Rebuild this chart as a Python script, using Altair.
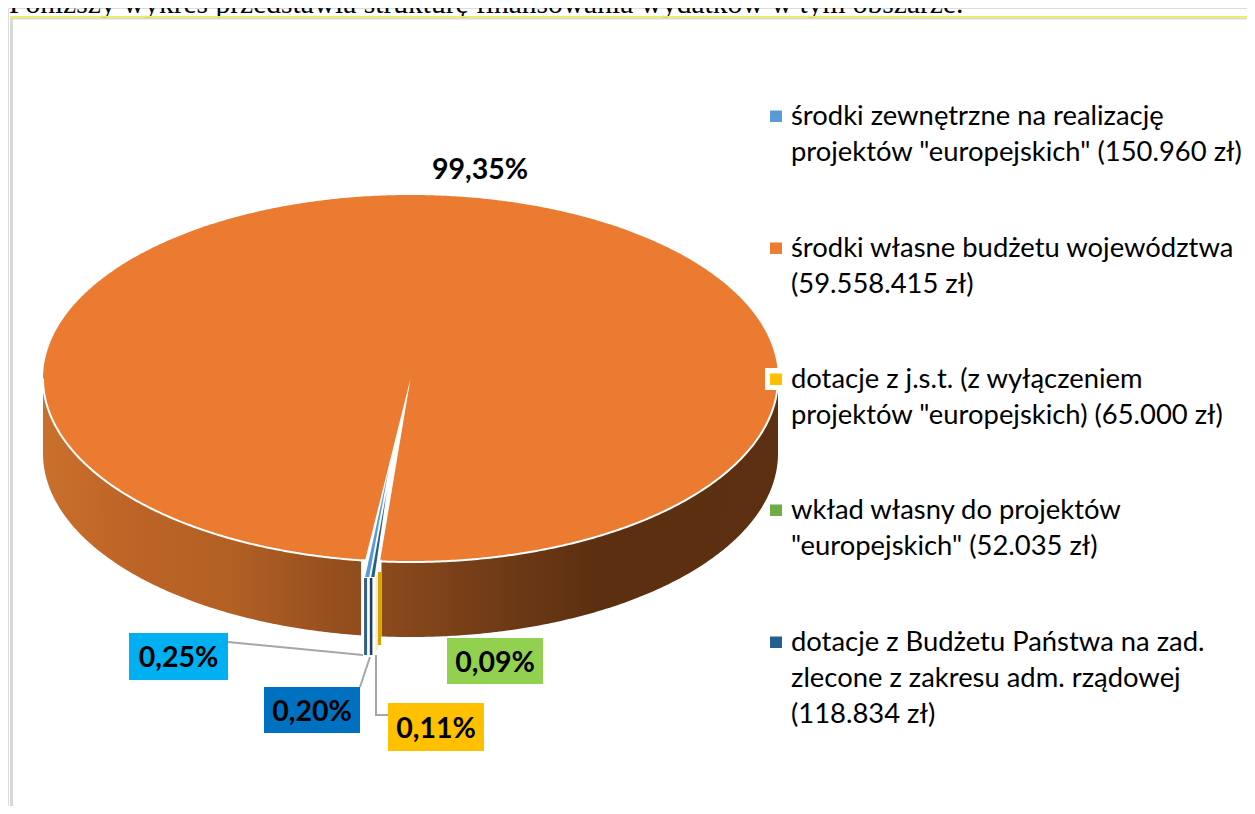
import numpy as np
import pandas as pd
import altair as alt

# ---- chart values ----
slice_names = ["blue", "orange", "yellow", "green", "navy"]
slice_shares = [0.25, 99.35, 0.11, 0.09, 0.20]
slice_labels = ["0,25%", "99,35%", "0,11%", "0,09%", "0,20%"]
legend_colors = ["#5b9bd5", "#ed7d31", "#ffc000", "#70ad47", "#255e91"]
legend_lines = [
    ["środki zewnętrzne na realizację", 'projektów "europejskich" (150.960 zł)'],
    ["środki własne budżetu województwa", "(59.558.415 zł)"],
    ["dotacje z j.s.t. (z wyłączeniem", 'projektów "europejskich) (65.000 zł)'],
    ["wkład własny do projektów", '"europejskich" (52.035 zł)'],
    ["dotacje z Budżetu Państwa na zad.", "zlecone z zakresu adm. rządowej", "(118.834 zł)"],
]
heading = "Poniższy wykres przedstawia strukturę finansowania wydatków w tym obszarze."

# ---- layout ----
W, H = 1255, 814
M = 8
CX, CY, RX, RY, DEPTH = 410.5, 378.5, 367.5, 183.5, 75
START_DEG = 187.1   # where the big slice starts (clockwise from 12 o'clock)
HEAD_SHIFT = 8      # the page margin hides the top strip, so heading and rule sit just below it

xs = alt.Scale(domain=[M, W - M], range=[0, W - 2 * M], nice=False, zero=False)
ys = alt.Scale(domain=[M, H - M], range=[0, H - 2 * M], nice=False, zero=False)


def X(f="x"):
    return alt.X(f"{f}:Q", scale=xs, axis=None)


def Y(f="y"):
    return alt.Y(f"{f}:Q", scale=ys, axis=None)


def edge(t_deg):
    t = np.radians(t_deg)
    return CX + RX * np.sin(t), CY - RY * np.cos(t)


# slice boundaries on the front edge: blue, navy, green, yellow run anticlockwise from the big slice
deg = [s * 3.6 for s in slice_shares]
t_blue_l = START_DEG
t_blue_r = t_blue_l - deg[0]
t_navy_r = t_blue_r - deg[4]
t_green_r = t_navy_r - deg[3]
t_yellow_r = t_green_r - deg[2]

u = np.cos(np.linspace(np.pi, 0, 361))
front = CY + RY * np.sqrt(1 - u**2)
back = CY - RY * np.sqrt(1 - u**2)
ex = CX + RX * u

side_df = pd.DataFrame({"x": ex, "y": front, "y2": front + DEPTH})
top_df = pd.DataFrame({"x": ex, "y": back, "y2": front})
rim_df = pd.DataFrame({"x": ex, "y": front})

side = alt.Chart(side_df).mark_area(
    color=alt.Gradient(
        gradient="linear", x1=0, x2=1, y1=0, y2=0,
        stops=[
            alt.GradientStop(offset=0.0, color="#c9702c"),
            alt.GradientStop(offset=0.118, color="#bd6427"),
            alt.GradientStop(offset=0.254, color="#b36024"),
            alt.GradientStop(offset=0.39, color="#97501e"),
            alt.GradientStop(offset=0.486, color="#87481b"),
            alt.GradientStop(offset=0.63, color="#6e3a16"),
            alt.GradientStop(offset=0.757, color="#5c2f11"),
            alt.GradientStop(offset=1.0, color="#5e3012"),
        ],
    )
).encode(x=X(), y=Y(), y2=alt.Y2("y2:Q"))

top = alt.Chart(top_df).mark_area(color="#ea7b31").encode(x=X(), y=Y(), y2=alt.Y2("y2:Q"))
rim = alt.Chart(rim_df).mark_line(color="#ffffff", strokeWidth=2).encode(x=X(), y=Y(), order="x:Q")

# gap in the top face left by the pulled-out slices
lx, ly = edge(t_blue_l)
rx_, ry_ = edge(t_yellow_r)
gap_df = pd.DataFrame({"y": [CY, ly], "x": [CX, lx], "x2": [CX, CX + (rx_ - CX) * (ly - CY) / (ry_ - CY)]})
gap = alt.Chart(gap_df).mark_area(orient="horizontal", color="#ffffff").encode(y=Y(), x=X(), x2=alt.X2("x2:Q"))

gapwall_df = pd.DataFrame({"x": [lx - 4], "x2": [rx_ + 1.5], "y": [ly - 1], "y2": [ly + DEPTH + 1]})
gapwall = alt.Chart(gapwall_df).mark_rect(color="#ffffff").encode(x=X(), x2=alt.X2("x2:Q"), y=Y(), y2=alt.Y2("y2:Q"))

# top faces of the pulled-out slices
BASE_Y = 577
face_rows = []
for name, col, apex, a, b in [
    ("blue", "#5b9bd5", (389, 468), t_blue_l, t_blue_r + 0.25),
    ("navy", "#255e91", (387, 490), t_blue_r - 0.05, t_navy_r + 0.15),
]:
    xa, xb = edge(a)[0], edge(b)[0]
    face_rows += [
        {"k": name, "c": col, "y": apex[1], "x": apex[0], "x2": apex[0]},
        {"k": name, "c": col, "y": BASE_Y, "x": xa, "x2": xb},
    ]
faces = alt.Chart(pd.DataFrame(face_rows)).mark_area(orient="horizontal").encode(
    y=Y(), x=X(), x2=alt.X2("x2:Q"),
    color=alt.Color("c:N", scale=None), detail="k:N",
)

# sides of the pulled-out slices
ex_b = edge(t_blue_l)[0]
ex_n = edge(t_blue_r)[0]
ex_g = edge(t_navy_r)[0]
ex_y = edge(t_green_r)[0]
strip_df = pd.DataFrame({
    "x": [ex_b - 1, ex_n - 1, ex_g, ex_y + 0.5],
    "x2": [ex_b + 2, ex_n + 1.6, ex_y + 0.5, edge(t_yellow_r)[0] + 1],
    "y": [BASE_Y + 1, BASE_Y + 1, 575, 572],
    "y2": [655, 655, 650, 645],
    "c": ["#2f5f8d", "#1c3f66", "#f5eccb", "#d9a400"],
})
strips = alt.Chart(strip_df).mark_rect().encode(
    x=X(), x2=alt.X2("x2:Q"), y=Y(), y2=alt.Y2("y2:Q"), color=alt.Color("c:N", scale=None)
)

# leader lines
leader_df = pd.DataFrame({
    "k": ["a", "a", "b", "b", "c", "c", "c"],
    "o": [0, 1, 0, 1, 0, 1, 2],
    "x": [228, 363, 360, 370, 376, 376, 388],
    "y": [642, 655, 687, 657, 655, 715, 715],
})
leaders = alt.Chart(leader_df).mark_line(color="#a6a6a6", strokeWidth=2).encode(
    x=X(), y=Y(), detail="k:N", order="o:Q"
)

# data-label boxes
box_df = pd.DataFrame({
    "t": [slice_labels[0], slice_labels[4], slice_labels[2], slice_labels[3]],
    "x": [129, 264, 388, 447],
    "x2": [228, 360, 484, 543],
    "y": [633, 687, 703, 638],
    "y2": [680, 733, 751, 684],
    "c": ["#00b0f0", "#0070c0", "#ffc000", "#92d050"],
})
box_df["tx"] = (box_df.x + box_df.x2) / 2
box_df["ty"] = (box_df.y + box_df.y2) / 2 + 1.5
boxes = alt.Chart(box_df).mark_rect().encode(
    x=X(), x2=alt.X2("x2:Q"), y=Y(), y2=alt.Y2("y2:Q"), color=alt.Color("c:N", scale=None)
)
LABEL_FONT = dict(font="Lato", fontWeight="bold", fontSize=28.5, color="#000000", align="center", baseline="middle")
box_text = alt.Chart(box_df).mark_text(**LABEL_FONT).encode(x=X("tx"), y=Y("ty"), text="t:N")
big_text = alt.Chart(pd.DataFrame({"x": [480], "y": [170], "t": [slice_labels[1]]})).mark_text(**LABEL_FONT).encode(
    x=X(), y=Y(), text="t:N"
)

# legend
first_line_y = [117, 249, 380, 511, 643]
LINE_H = 36
legend_rows = []
square_rows = []
for ly0, lines, c in zip(first_line_y, legend_lines, legend_colors):
    square_rows.append({"x": 770, "x2": 782, "y": ly0 - 6.5, "y2": ly0 + 5, "c": c})
    for i, line in enumerate(lines):
        legend_rows.append({"x": 791, "y": ly0 + i * LINE_H, "t": line})
legend_text = alt.Chart(pd.DataFrame(legend_rows)).mark_text(
    font="Lato", fontSize=27.4, color="#000000", align="left", baseline="middle"
).encode(x=X(), y=Y(), text="t:N")
legend_sq = alt.Chart(pd.DataFrame(square_rows)).mark_rect().encode(
    x=X(), x2=alt.X2("x2:Q"), y=Y(), y2=alt.Y2("y2:Q"), color=alt.Color("c:N", scale=None)
)
halo = alt.Chart(pd.DataFrame({"x": [765], "x2": [786], "y": [368], "y2": [390]})).mark_rect(color="#ffffff").encode(
    x=X(), x2=alt.X2("x2:Q"), y=Y(), y2=alt.Y2("y2:Q")
)

# page frame and clipped heading line
frame_df = pd.DataFrame({
    "x": [10, 10, 10],
    "x2": [13, W, W],
    "y": [9.5 + HEAD_SHIFT, 9.5 + HEAD_SHIFT, 8 + HEAD_SHIFT],
    "y2": [H, 11.5 + HEAD_SHIFT, 9.7 + HEAD_SHIFT],
    "c": ["#d9d9d9", "#d9d9d9", "#eeee55"],
})
frame = alt.Chart(frame_df).mark_rect().encode(
    x=X(), x2=alt.X2("x2:Q"), y=Y(), y2=alt.Y2("y2:Q"), color=alt.Color("c:N", scale=None)
)
head = alt.Chart(pd.DataFrame({"x": [9], "y": [4.5 + HEAD_SHIFT], "t": [heading]})).mark_text(
    font="Liberation Serif", fontSize=29.5, color="#000000", align="left", baseline="alphabetic"
).encode(x=X(), y=Y(), text="t:N")
# white band below the rule hides the descenders that pass under it
mask = alt.Chart(pd.DataFrame({"x": [13], "x2": [W], "y": [11.5 + HEAD_SHIFT], "y2": [30]})).mark_rect(color="#ffffff").encode(
    x=X(), x2=alt.X2("x2:Q"), y=Y(), y2=alt.Y2("y2:Q")
)

chart = alt.layer(
    head, mask, frame, side, top, rim, gap, gapwall, faces, leaders, strips,
    boxes, box_text, big_text, halo, legend_sq, legend_text,
).properties(
    width=W - 2 * M, height=H - 2 * M, padding=0, autosize=alt.AutoSizeParams(type="none"),
).configure_view(stroke=None).configure(background="#ffffff")

chart.save("out.html", embed_options={"renderer": "svg", "actions": False})
